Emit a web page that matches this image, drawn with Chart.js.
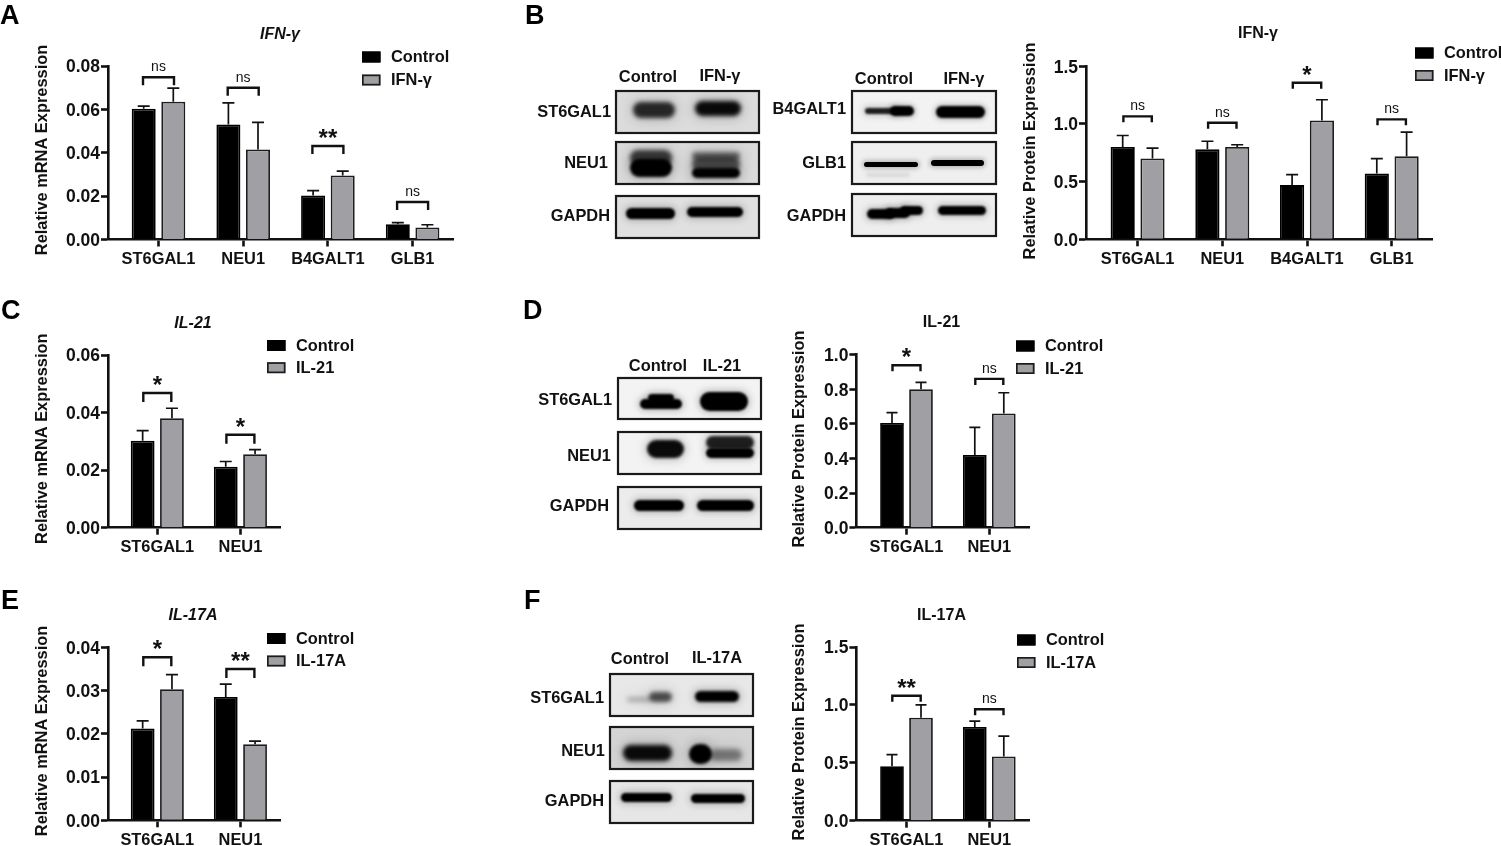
<!DOCTYPE html>
<html>
<head>
<meta charset="utf-8">
<title>IFN-γ, IL-21 and IL-17A panels</title>
<script src="https://cdn.jsdelivr.net/npm/chart.js@4"></script>
<style>
    html, body { margin: 0; padding: 0; background: #fff; overflow: hidden; }
    #page { position: relative; width: 1501px; height: 846px; overflow: hidden; }
    #page canvas { position: absolute; }
    .txt {
        position: absolute; white-space: nowrap; color: #111; line-height: 1;
        font: bold 16.4px "Liberation Sans", Arial, sans-serif;
    }
    .letter { font-size: 27px; color: #000; }
</style>
</head>
<body>
<div id="page"><canvas id="blots" width="1501" height="846" style="left:0;top:0"></canvas></div>
<script>
// Categorias
const catsFour = ['ST6GAL1', 'NEU1', 'B4GALT1', 'GLB1'];
const catsTwo = ['ST6GAL1', 'NEU1'];

// Panel A
const aTicks = [0, 0.02, 0.04, 0.06, 0.08];
const aControl = [0.0603, 0.053, 0.0203, 0.007];
const aTreated = [0.0635, 0.0415, 0.0295, 0.0055];
const aControlTop = [0.0615, 0.063, 0.0225, 0.0078];
const aTreatedTop = [0.0698, 0.054, 0.0315, 0.0068];
const aBracket = [0.0748, 0.07, 0.0431, 0.0173];
const aSig = ['ns', 'ns', '**', 'ns'];

// Panel B
const bTicks = [0, 0.5, 1.0, 1.5];
const bControl = [0.8, 0.78, 0.47, 0.57];
const bTreated = [0.7, 0.8, 1.03, 0.72];
const bControlTop = [0.9, 0.85, 0.56, 0.7];
const bTreatedTop = [0.79, 0.82, 1.21, 0.93];
const bBracket = [1.066, 1.011, 1.358, 1.04];
const bSig = ['ns', 'ns', '*', 'ns'];

// Panel C
const cTicks = [0, 0.02, 0.04, 0.06];
const cControl = [0.0302, 0.0212];
const cTreated = [0.038, 0.0255];
const cControlTop = [0.0337, 0.023];
const cTreatedTop = [0.0415, 0.0271];
const cBracket = [0.0468, 0.0323];
const cSig = ['*', '*'];

// Panel D
const dTicks = [0, 0.2, 0.4, 0.6, 0.8, 1.0];
const dControl = [0.605, 0.42];
const dTreated = [0.8, 0.66];
const dControlTop = [0.665, 0.58];
const dTreatedTop = [0.84, 0.78];
const dBracket = [0.939, 0.86];
const dSig = ['*', 'ns'];

// Panel E
const eTicks = [0, 0.01, 0.02, 0.03, 0.04];
const eControl = [0.0212, 0.0285];
const eTreated = [0.0303, 0.0176];
const eControlTop = [0.023, 0.0315];
const eTreatedTop = [0.0337, 0.0183];
const eBracket = [0.0377, 0.035];
const eSig = ['*', '**'];

// Panel F
const fTicks = [0, 0.5, 1.0, 1.5];
const fControl = [0.47, 0.81];
const fTreated = [0.89, 0.555];
const fControlTop = [0.57, 0.86];
const fTreatedTop = [1.0, 0.73];
const fBracket = [1.079, 0.962];
const fSig = ['**', 'ns'];

const FONT = '"Liberation Sans", Arial, sans-serif';
const INK = '#111';

// Barras de error, corchetes, titulo y leyenda
const panelMarks = {
    id: 'panelMarks',
    afterDatasetsDraw(chart) {
        const p = chart.options.plugins.panelMarks;
        const ctx = chart.ctx;
        const x = chart.scales.x, y = chart.scales.y;
        ctx.save();
        ctx.strokeStyle = INK;

        // error bars
        ctx.lineWidth = 1.7;
        chart.data.datasets.forEach((ds, d) => {
            chart.getDatasetMeta(d).data.forEach((bar, i) => {
                const top = y.getPixelForValue(ds.errorTop[i]);
                ctx.beginPath();
                ctx.moveTo(bar.x, bar.y);
                ctx.lineTo(bar.x, top);
                ctx.moveTo(bar.x - p.cap, top);
                ctx.lineTo(bar.x + p.cap, top);
                ctx.stroke();
            });
        });

        // brackets
        ctx.lineWidth = 2.4;
        ctx.fillStyle = INK;
        ctx.textAlign = 'center';
        ctx.textBaseline = 'alphabetic';
        p.bracket.forEach((val, i) => {
            const cx = x.getPixelForValue(i), by = y.getPixelForValue(val);
            ctx.beginPath();
            ctx.moveTo(cx - p.half, by + p.drop);
            ctx.lineTo(cx - p.half, by);
            ctx.lineTo(cx + p.half, by);
            ctx.lineTo(cx + p.half, by + p.drop);
            ctx.stroke();
            if (p.sig[i] === 'ns') {
                ctx.font = '14px ' + FONT;
                ctx.fillText('ns', cx, by - 6);
            } else {
                ctx.font = 'bold 24px ' + FONT;
                ctx.fillText(p.sig[i], cx, by);
            }
        });

        // title
        ctx.font = (p.italic ? 'italic ' : '') + 'bold 16px ' + FONT;
        ctx.textBaseline = 'middle';
        ctx.fillText(p.title, p.titleX - p.ox, p.titleY - p.oy);

        // legend
        chart.data.datasets.forEach((ds, d) => {
            const ly = p.legendY[d] - p.oy;
            ctx.fillStyle = ds.backgroundColor;
            ctx.fillRect(p.legendX - p.ox, ly - 5.5, 18.5, 11);
            ctx.lineWidth = 1.7;
            ctx.strokeStyle = ds.borderColor;
            ctx.strokeRect(p.legendX - p.ox + 0.85, ly - 4.65, 16.8, 9.3);
            ctx.fillStyle = INK;
            ctx.textAlign = 'left';
            ctx.font = 'bold 16.4px ' + FONT;
            ctx.fillText(ds.label, p.legendX - p.ox + 29, ly + 0.5);
        });

        // y axis title
        ctx.translate(p.yTitleX - p.ox, p.yTitleY - p.oy);
        ctx.rotate(-Math.PI / 2);
        ctx.textAlign = 'center';
        ctx.font = 'bold 16.4px ' + FONT;
        ctx.fillText(p.yTitle, 0, 0);
        ctx.restore();
    }
};

function addPanel(cfg) {
    const canvas = document.createElement('canvas');
    canvas.width = cfg.box.w;
    canvas.height = cfg.box.h;
    canvas.style.left = cfg.box.x + 'px';
    canvas.style.top = cfg.box.y + 'px';
    document.getElementById('page').appendChild(canvas);

    const step = (cfg.tick1 - cfg.tick0);
    const toPoints = arr => arr.map((v, i) => ({ x: i, y: v }));
    const barStyle = {
        categoryPercentage: 2 * cfg.barStep / step,
        barPercentage: cfg.barWide / cfg.barStep
    };

    new Chart(canvas, {
        type: 'bar',
        data: {
            datasets: [
                Object.assign({
                    label: 'Control', data: toPoints(cfg.control), errorTop: cfg.controlTop,
                    backgroundColor: '#000', borderColor: '#000', borderWidth: 1.8
                }, barStyle),
                Object.assign({
                    label: cfg.treated, data: toPoints(cfg.treatedVals), errorTop: cfg.treatedTop,
                    backgroundColor: '#a0a0a4', borderColor: '#1c1c1c', borderWidth: 1.8
                }, barStyle)
            ]
        },
        options: {
            responsive: false,
            animation: false,
            layout: {
                padding: {
                    top: cfg.axis.top - cfg.box.y,
                    right: cfg.box.x + cfg.box.w - cfg.axis.right,
                    left: 0, bottom: 0
                }
            },
            plugins: {
                legend: { display: false },
                tooltip: { enabled: false },
                panelMarks: {
                    ox: cfg.box.x, oy: cfg.box.y,
                    cap: cfg.cap, half: cfg.half, drop: cfg.drop,
                    bracket: cfg.bracket, sig: cfg.sig,
                    title: cfg.treated, italic: cfg.italic,
                    titleX: cfg.titleX, titleY: cfg.titleY,
                    legendX: cfg.legendX, legendY: cfg.legendY,
                    yTitle: cfg.yTitle, yTitleX: cfg.yTitleX, yTitleY: cfg.yTitleY
                }
            },
            scales: {
                x: {
                    type: 'linear',
                    offset: false,
                    min: (cfg.axis.left - cfg.tick0) / step,
                    max: (cfg.axis.right - cfg.tick0) / step,
                    afterFit: s => { s.height = cfg.box.y + cfg.box.h - cfg.axis.bottom; },
                    afterBuildTicks: s => { s.ticks = cfg.cats.map((c, i) => ({ value: i })); },
                    grid: { offset: false, drawOnChartArea: false, tickLength: 7, tickWidth: 2.6, tickColor: INK },
                    border: { color: INK, width: 2.6 },
                    ticks: {
                        callback: v => cfg.cats[v],
                        autoSkip: false, maxRotation: 0, minRotation: 0, padding: 3,
                        color: INK, font: { family: FONT, size: 16.4, weight: 'bold' }
                    }
                },
                y: {
                    min: 0,
                    max: cfg.ticks[cfg.ticks.length - 1],
                    afterFit: s => { s.width = cfg.axis.left - cfg.box.x; },
                    afterBuildTicks: s => { s.ticks = cfg.ticks.map(v => ({ value: v })); },
                    grid: { drawOnChartArea: false, tickLength: 7, tickWidth: 2.6, tickColor: INK },
                    border: { color: INK, width: 2.6 },
                    ticks: {
                        callback: v => v.toFixed(cfg.digits),
                        autoSkip: false, padding: 1, labelOffset: 1.5,
                        color: INK, font: { family: FONT, size: 17.5, weight: 'bold' }
                    }
                }
            }
        },
        plugins: [panelMarks]
    });
}

addPanel({
    box: { x: 30, y: 20, w: 440, h: 260 }, axis: { left: 108, right: 453, top: 66, bottom: 239.5 },
    tick0: 158.5, tick1: 243.2, barStep: 29.6, barWide: 24, cap: 6, half: 15.5, drop: 8,
    cats: catsFour, ticks: aTicks, digits: 2, treated: 'IFN-γ', italic: true,
    control: aControl, treatedVals: aTreated, controlTop: aControlTop, treatedTop: aTreatedTop,
    bracket: aBracket, sig: aSig,
    titleX: 280, titleY: 35, legendX: 362, legendY: [57, 80],
    yTitle: 'Relative mRNA Expression', yTitleX: 42, yTitleY: 150
});
addPanel({
    box: { x: 1015, y: 20, w: 486, h: 260 }, axis: { left: 1086, right: 1432.7, top: 66.3, bottom: 239.3 },
    tick0: 1137.6, tick1: 1222.3, barStep: 29.8, barWide: 24.2, cap: 6, half: 14.2, drop: 6,
    cats: catsFour, ticks: bTicks, digits: 1, treated: 'IFN-γ', italic: false,
    control: bControl, treatedVals: bTreated, controlTop: bControlTop, treatedTop: bTreatedTop,
    bracket: bBracket, sig: bSig,
    titleX: 1258, titleY: 34, legendX: 1415, legendY: [53, 75.5],
    yTitle: 'Relative Protein Expression', yTitleX: 1030, yTitleY: 151
});
addPanel({
    box: { x: 30, y: 310, w: 340, h: 260 }, axis: { left: 108, right: 280, top: 355, bottom: 527.7 },
    tick0: 157.3, tick1: 240.4, barStep: 29.3, barWide: 23.8, cap: 6, half: 14, drop: 9,
    cats: catsTwo, ticks: cTicks, digits: 2, treated: 'IL-21', italic: true,
    control: cControl, treatedVals: cTreated, controlTop: cControlTop, treatedTop: cTreatedTop,
    bracket: cBracket, sig: cSig,
    titleX: 193, titleY: 324, legendX: 267, legendY: [345.5, 367.7],
    yTitle: 'Relative mRNA Expression', yTitleX: 42, yTitleY: 438.7
});
addPanel({
    box: { x: 785, y: 310, w: 330, h: 260 }, axis: { left: 856.4, right: 1029.6, top: 354.7, bottom: 527.7 },
    tick0: 906.5, tick1: 989.3, barStep: 29, barWide: 23.7, cap: 5.5, half: 14, drop: 6,
    cats: catsTwo, ticks: dTicks, digits: 1, treated: 'IL-21', italic: false,
    control: dControl, treatedVals: dTreated, controlTop: dControlTop, treatedTop: dTreatedTop,
    bracket: dBracket, sig: dSig,
    titleX: 941.5, titleY: 323, legendX: 1016, legendY: [346, 368.5],
    yTitle: 'Relative Protein Expression', yTitleX: 799.5, yTitleY: 439
});
addPanel({
    box: { x: 30, y: 600, w: 340, h: 246 }, axis: { left: 108, right: 280, top: 647.3, bottom: 820.3 },
    tick0: 157.3, tick1: 240.4, barStep: 29.3, barWide: 23.8, cap: 6, half: 14, drop: 9,
    cats: catsTwo, ticks: eTicks, digits: 2, treated: 'IL-17A', italic: true,
    control: eControl, treatedVals: eTreated, controlTop: eControlTop, treatedTop: eTreatedTop,
    bracket: eBracket, sig: eSig,
    titleX: 193, titleY: 616, legendX: 267, legendY: [638.5, 661],
    yTitle: 'Relative mRNA Expression', yTitleX: 42, yTitleY: 731
});
addPanel({
    box: { x: 785, y: 600, w: 330, h: 246 }, axis: { left: 856.4, right: 1029.6, top: 647, bottom: 820.7 },
    tick0: 906.5, tick1: 989.3, barStep: 29, barWide: 23.7, cap: 5.5, half: 14.2, drop: 6,
    cats: catsTwo, ticks: fTicks, digits: 1, treated: 'IL-17A', italic: false,
    control: fControl, treatedVals: fTreated, controlTop: fControlTop, treatedTop: fTreatedTop,
    bracket: fBracket, sig: fSig,
    titleX: 941.5, titleY: 616, legendX: 1017, legendY: [640, 662.5],
    yTitle: 'Relative Protein Expression', yTitleX: 799.5, yTitleY: 732
});

// Western blots: recuadro [x, y, w, h, fondo] y bandas [x0, x1, y0, y1, alpha, blur]
const blotPanels = [
    [616, 91, 143, 42, '#dcdcdc', [[633, 675, 102, 118, 0.8, 2.2], [695, 741, 101, 116, 0.95, 2]]],
    [616, 142, 143, 42, '#dadada', [[630, 672, 159, 177, 1, 1.8], [630, 672, 150, 166, 0.7, 2], [692, 740, 168, 178, 1, 1.8], [692, 740, 157, 172, 0.6, 2.2], [692, 740, 152, 160, 0.5, 2.2]]],
    [616, 196, 143, 42, '#e0e0e0', [[626, 675, 208, 219, 1, 1.2], [687, 743, 207, 217, 1, 1.2]]],
    [852, 91, 144, 42, '#f2f2f2', [[865, 900, 108, 114, 0.85, 1], [890, 914, 106, 116, 1, 0.9], [936, 985, 106, 118, 1, 0.9]]],
    [852, 142, 144, 42, '#efefef', [[864, 918, 162, 167, 1, 0.7], [931, 984, 160, 166, 1, 0.7], [866, 910, 173, 177, 0.08, 1.5]]],
    [852, 194, 144, 42, '#eeeeee', [[867, 895, 209, 219, 1, 1], [885, 910, 208, 218, 1, 1], [900, 923, 206, 215, 1, 1], [938, 986, 206, 215, 1, 1]]],
    [618, 378, 143, 41, '#f3f3f3', [[640, 682, 399, 409, 1, 1.3], [648, 674, 394, 402, 1, 1.2], [700, 748, 392, 411, 1, 1.2]]],
    [618, 432, 143, 42, '#f3f3f3', [[647, 684, 440, 458, 0.95, 1.6], [706, 754, 436, 449, 0.85, 1.5], [706, 754, 448, 458, 1, 1.1]]],
    [618, 487, 143, 42, '#ececec', [[634, 684, 500, 511, 1, 1.2], [697, 754, 500, 511, 1, 1.2]]],
    [610, 674, 143, 42, '#e8e8e8', [[627, 651, 697, 702, 0.25, 2.5], [649, 672, 692, 702, 0.65, 2.2], [695, 739, 691, 702, 1, 1.4]]],
    [610, 727, 143, 42, '#d4d4d4', [[623, 672, 745, 761, 0.95, 2], [689, 712, 744, 764, 1, 1.8], [710, 742, 749, 761, 0.42, 2.5]]],
    [610, 781, 143, 42, '#e6e6e6', [[621, 672, 793, 802, 1, 1.2], [691, 745, 794, 803, 1, 1.2]]]
];

const pageLabels = [
    ['A', 0, 15, 'left', 'letter'], ['B', 525, 15, 'left', 'letter'], ['C', 1, 310, 'left', 'letter'],
    ['D', 523, 310, 'left', 'letter'], ['E', 1, 600, 'left', 'letter'], ['F', 524, 600, 'left', 'letter'],
    ['Control', 648, 76, 'center'], ['IFN-γ', 720, 75, 'center'], ['Control', 884, 78, 'center'], ['IFN-γ', 964, 78, 'center'],
    ['ST6GAL1', 611, 111, 'right'], ['NEU1', 608, 162, 'right'], ['GAPDH', 610, 215, 'right'],
    ['B4GALT1', 846, 108, 'right'], ['GLB1', 846, 162, 'right'], ['GAPDH', 846, 215, 'right'],
    ['Control', 658, 365, 'center'], ['IL-21', 722, 365, 'center'],
    ['ST6GAL1', 612, 399, 'right'], ['NEU1', 611, 455, 'right'], ['GAPDH', 609, 505, 'right'],
    ['Control', 640, 658, 'center'], ['IL-17A', 717, 657, 'center'],
    ['ST6GAL1', 604, 697, 'right'], ['NEU1', 605, 750, 'right'], ['GAPDH', 604, 800, 'right']
];

function drawBand(ctx, x0, x1, y0, y1, alpha, blur) {
    ctx.filter = 'blur(' + blur + 'px)';
    ctx.fillStyle = 'rgba(0,0,0,' + alpha + ')';
    ctx.beginPath();
    ctx.roundRect(x0, y0, x1 - x0, y1 - y0, (y1 - y0) / 2);
    ctx.fill();
}

function drawBlots() {
    const ctx = document.getElementById('blots').getContext('2d');
    blotPanels.forEach(([x, y, w, h, bg, bands]) => {
        ctx.save();
        ctx.beginPath();
        ctx.rect(x, y, w, h);
        ctx.clip();
        ctx.fillStyle = bg;
        ctx.fillRect(x, y, w, h);
        // halo suave alrededor de cada banda
        bands.forEach(([x0, x1, y0, y1, alpha, blur]) => {
            drawBand(ctx, x0 - 2, x1 + 2, y0 - 2, y1 + 2, alpha * 0.22, blur * 3);
        });
        bands.forEach(([x0, x1, y0, y1, alpha, blur]) => {
            drawBand(ctx, x0, x1, y0, y1, alpha, blur);
        });
        ctx.restore();
        ctx.lineWidth = 2.2;
        ctx.strokeStyle = '#1a1a1a';
        ctx.strokeRect(x, y, w, h);
    });
}

function drawLabels() {
    const page = document.getElementById('page');
    const shift = { left: '0', center: '-50%', right: '-100%' };
    pageLabels.forEach(([text, x, y, align, cls]) => {
        const el = document.createElement('div');
        el.className = 'txt' + (cls ? ' ' + cls : '');
        el.textContent = text;
        el.style.left = x + 'px';
        el.style.top = y + 'px';
        el.style.transform = 'translate(' + shift[align] + ',-50%)';
        page.appendChild(el);
    });
}

drawBlots();
drawLabels();
</script>
</body>
</html>
